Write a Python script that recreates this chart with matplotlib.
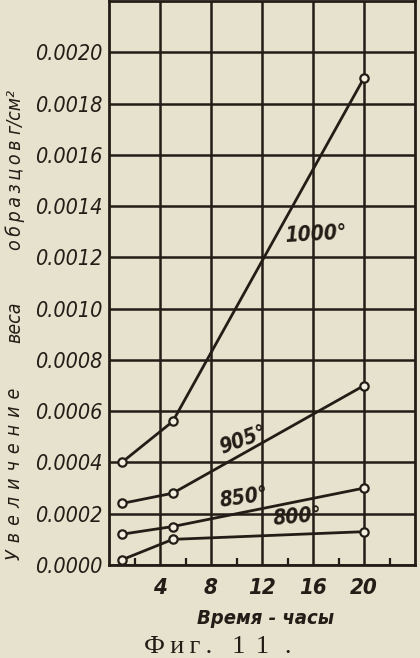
import matplotlib
matplotlib.use('Agg')
import matplotlib.pyplot as plt
from matplotlib.ticker import FixedLocator, FormatStrFormatter
from matplotlib import font_manager as fm

# ---- data ----
hours = [1, 5, 20]
gain_1000 = [0.00040, 0.00056, 0.00190]
gain_905 = [0.00024, 0.00028, 0.00070]
gain_850 = [0.00012, 0.00015, 0.00030]
gain_800 = [0.00002, 0.00010, 0.00013]
series_names = ['1000°', '905°', '850°', '800°']
x_ticks = [4, 8, 12, 16, 20]
x_minor = [2, 6, 10, 14, 18, 22]
y_ticks = [0.0000, 0.0002, 0.0004, 0.0006, 0.0008, 0.0010,
           0.0012, 0.0014, 0.0016, 0.0018, 0.0020]
ylabel_words = ['Увеличение', 'веса', 'образцов', 'г/см²']
xlabel_text = 'Время - часы'
caption_text = 'Фиг. 11.'

paper = '#e6e2cd'
ink = '#221e17'

# look for any installed condensed / narrow sans face
cond_fam = None
for f in fm.fontManager.ttflist:
    nm = (f.name + ' ' + f.fname).lower()
    if ('condensed' in nm or 'narrow' in nm) and 'mono' not in nm \
            and 'serif' not in nm:
        cond_fam = f.name
        break
if cond_fam is None:
    for f in fm.fontManager.ttflist:
        if f.stretch in ('condensed', 'semi-condensed', 'extra-condensed',
                         'ultra-condensed') or (isinstance(f.stretch, int)
                                                and f.stretch < 500):
            cond_fam = f.name
            break

if cond_fam is not None:
    narrow = [cond_fam, 'DejaVu Sans']
    stretch = 'condensed'
    scale = 1.0
else:
    narrow = ['DejaVu Sans']
    stretch = 'normal'
    scale = 0.8
serif = ['Liberation Serif', 'DejaVu Serif']
THIN = '\u2009'


def spaced(s, sep=THIN):
    return sep.join(list(s))


W, H = 420, 658
fig = plt.figure(figsize=(W / 100, H / 100), dpi=100, facecolor=paper)
ax = fig.add_axes([109 / W, (H - 565) / H, (415 - 109) / W, (565 - 1) / H])
ax.set_facecolor(paper)
ax.set_xlim(0, 24)
ax.set_ylim(0, 0.0022)

ax.xaxis.set_major_locator(FixedLocator(x_ticks))
ax.xaxis.set_minor_locator(FixedLocator(x_minor))
ax.yaxis.set_major_locator(FixedLocator(y_ticks))
ax.yaxis.set_major_formatter(FormatStrFormatter('%.4f'))
ax.grid(True, which='major', color=ink, linewidth=1.8)
ax.set_axisbelow(True)
for s in ax.spines.values():
    s.set_color(ink)
    s.set_linewidth(2.0)
ax.tick_params(axis='both', which='major', length=0, colors=ink)
ax.tick_params(axis='y', pad=5)
ax.tick_params(axis='x', pad=9)
ax.tick_params(axis='x', which='minor', direction='in', length=5,
               width=1.6, color=ink)
for lab in ax.get_yticklabels():
    lab.set_fontfamily(narrow)
    lab.set_fontstretch(stretch)
    lab.set_fontstyle('italic')
    lab.set_fontsize(15.5 * scale)
for lab in ax.get_xticklabels():
    lab.set_fontfamily(narrow)
    lab.set_fontstretch(stretch)
    lab.set_fontstyle('italic')
    lab.set_fontweight('bold')
    lab.set_fontsize(16 * scale)

for vals in [gain_1000, gain_905, gain_850, gain_800]:
    ax.plot(hours, vals, color=ink, linewidth=2.0, marker='o',
            markersize=6, markerfacecolor='#f2efe0', markeredgecolor=ink,
            markeredgewidth=1.6, zorder=3, clip_on=False)

txt_kw = dict(color=ink, fontfamily=narrow, fontstretch=stretch,
              fontstyle='italic', fontweight='bold', ha='center',
              va='center', zorder=4)
ax.text(16.2, 0.00129, series_names[0], fontsize=15 * scale, rotation=3,
        **txt_kw)
ax.text(10.5, 0.000486, series_names[1], fontsize=15 * scale, rotation=20,
        **txt_kw)
ax.text(10.6, 0.000264, series_names[2], fontsize=15 * scale, rotation=8,
        **txt_kw)
ax.text(14.8, 0.000186, series_names[3], fontsize=15 * scale, rotation=5,
        **txt_kw)

fig.text(266 / W, 1 - 619 / H, xlabel_text, color=ink,
         fontfamily=narrow, fontstretch=stretch, fontstyle='italic',
         fontweight='bold', fontsize=14.5 * scale, ha='center', va='center')

# y label: words placed along the left margin, rotated
ylab_kw = dict(color=ink, fontfamily=narrow, fontstretch=stretch,
               fontstyle='italic', fontsize=14 * scale, rotation=90,
               ha='center', va='center')
word_centres = [474, 322, 195, 111]
word_text = [spaced(ylabel_words[0], THIN + THIN), ylabel_words[1],
             spaced(ylabel_words[2]), ylabel_words[3]]
for wtxt, yc in zip(word_text, word_centres):
    fig.text(15 / W, 1 - yc / H, wtxt, **ylab_kw)

fig.text(218 / W, 1 - 647 / H,
         spaced('Фиг.') + '   ' + spaced('11', THIN + THIN) + THIN * 3 + '.',
         color=ink, fontfamily=serif, fontsize=19, ha='center', va='center')

fig.savefig('out.png', dpi=100, facecolor=paper)
